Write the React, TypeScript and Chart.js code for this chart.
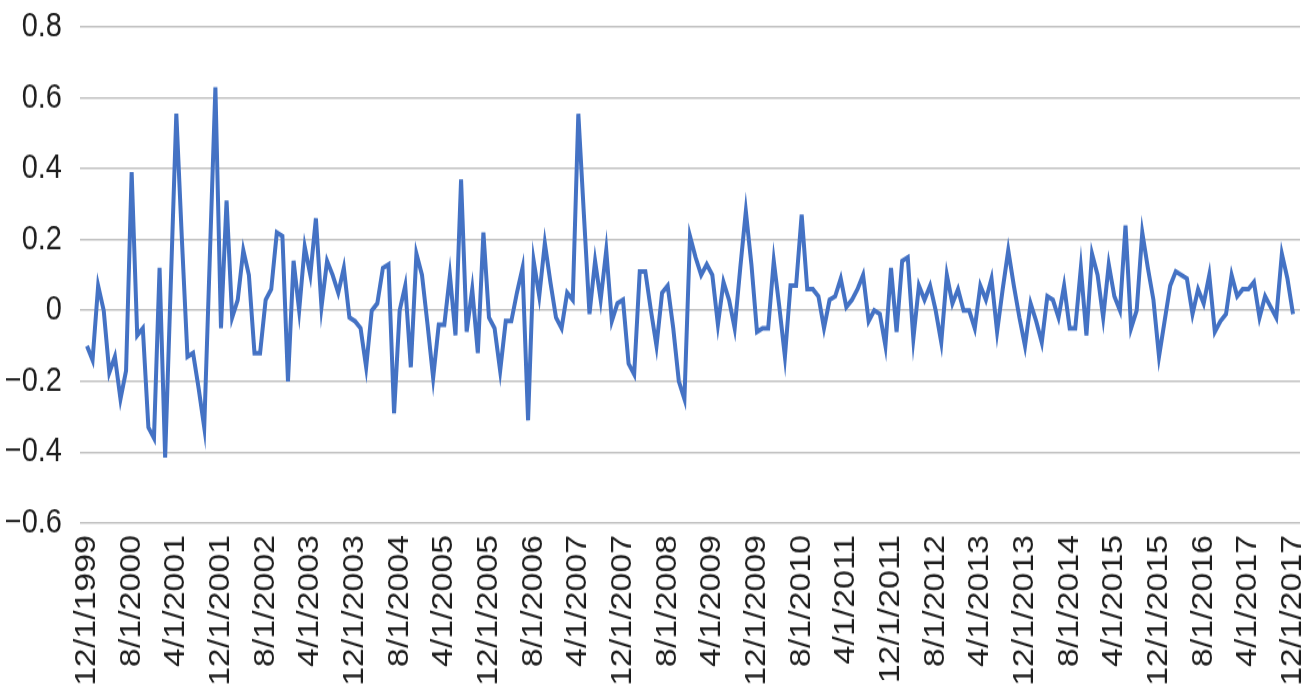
import React, { useEffect, useRef } from 'react';
import { Chart, registerables } from 'chart.js';

Chart.register(...registerables);

// Tick labels on the date axis (one every 8 months, 12/1999 .. 12/2017)
const tickLabels = [
  '12/1/1999', '8/1/2000', '4/1/2001', '12/1/2001', '8/1/2002', '4/1/2003', '12/1/2003',
  '8/1/2004', '4/1/2005', '12/1/2005', '8/1/2006', '4/1/2007', '12/1/2007', '8/1/2008',
  '4/1/2009', '12/1/2009', '8/1/2010', '4/1/2011', '12/1/2011', '8/1/2012', '4/1/2013',
  '12/1/2013', '8/1/2014', '4/1/2015', '12/1/2015', '8/1/2016', '4/1/2017', '12/1/2017',
];
const monthsPerTick = 8;

// Y-axis tick values
const yTicks = [0.8, 0.6, 0.4, 0.2, 0, -0.2, -0.4, -0.6];

// Monthly series values (217 months, 12/1999 .. 12/2017)
const values = [
  -0.10, -0.14, 0.07, 0.00, -0.175, -0.13, -0.25, -0.17, 0.39, -0.07,
  -0.05, -0.33, -0.36, 0.12, -0.415, 0.07, 0.555, 0.20, -0.13, -0.12,
  -0.22, -0.33, 0.15, 0.63, -0.05, 0.31, -0.02, 0.03, 0.17, 0.10,
  -0.12, -0.12, 0.03, 0.06, 0.22, 0.21, -0.20, 0.14, 0.00, 0.18,
  0.10, 0.26, 0.01, 0.14, 0.10, 0.05, 0.12, -0.02, -0.03, -0.05,
  -0.16, 0.00, 0.02, 0.12, 0.13, -0.29, 0.00, 0.07, -0.16, 0.16,
  0.10, -0.04, -0.19, -0.04, -0.04, 0.10, -0.07, 0.37, -0.06, 0.06,
  -0.12, 0.22, -0.02, -0.05, -0.17, -0.03, -0.03, 0.05, 0.12, -0.31,
  0.14, 0.04, 0.19, 0.08, -0.02, -0.05, 0.05, 0.03, 0.555, 0.27,
  -0.01, 0.14, 0.03, 0.17, -0.03, 0.02, 0.03, -0.15, -0.18, 0.11,
  0.11, 0.00, -0.10, 0.05, 0.07, -0.05, -0.20, -0.25, 0.21, 0.15,
  0.10, 0.13, 0.10, -0.04, 0.08, 0.03, -0.05, 0.12, 0.28, 0.13,
  -0.06, -0.05, -0.05, 0.14, 0.01, -0.13, 0.07, 0.07, 0.27, 0.06,
  0.06, 0.04, -0.05, 0.03, 0.04, 0.09, 0.01, 0.03, 0.06, 0.10,
  -0.03, 0.00, -0.01, -0.10, 0.12, -0.06, 0.14, 0.15, -0.08, 0.07,
  0.03, 0.07, 0.00, -0.09, 0.10, 0.02, 0.06, 0.00, 0.00, -0.05,
  0.07, 0.03, 0.09, -0.06, 0.06, 0.17, 0.07, -0.02, -0.10, 0.02,
  -0.03, -0.09, 0.04, 0.03, -0.02, 0.07, -0.05, -0.05, 0.12, -0.07,
  0.16, 0.10, -0.02, 0.13, 0.04, 0.00, 0.24, -0.05, 0.00, 0.22,
  0.12, 0.03, -0.13, -0.03, 0.07, 0.11, 0.10, 0.09, -0.01, 0.06,
  0.02, 0.10, -0.06, -0.03, -0.01, 0.10, 0.04, 0.06, 0.06, 0.08,
  -0.02, 0.04, 0.01, -0.02, 0.16, 0.09, -0.01,
];

const FONT = { family: "'Liberation Sans', Arial, Helvetica, sans-serif", size: 29 };
const TEXT_COLOR = '#1e1e1e';

// The reference picture is vertically stretched; the canvas is drawn shorter and shown at full height.
const VIEW_W = 1309;
const VIEW_H = 694;
const CANVAS_H = 593;

function fmtY(v: number): string {
  if (Math.abs(v) < 1e-9) return '0';
  return (v < 0 ? '\u2212' : '') + Math.abs(v).toFixed(1);
}

export default function App() {
  const ref = useRef<HTMLCanvasElement>(null);

  useEffect(() => {
    const canvas = ref.current;
    if (!canvas) return;
    const points = values.map((v, i) => ({ x: i, y: v }));
    const chart = new Chart(canvas, {
      type: 'line',
      data: {
        datasets: [
          {
            data: points,
            borderColor: '#4472C4',
            borderWidth: 4,
            pointRadius: 0,
            tension: 0,
            fill: false,
          },
        ],
      },
      options: {
        animation: false,
        responsive: false,
        plugins: { legend: { display: false }, tooltip: { enabled: false } },
        layout: { padding: { left: 0, right: 9, top: 23, bottom: 0 } },
        scales: {
          x: {
            type: 'linear',
            min: -1.25,
            max: values.length - 1 + 1.25,
            afterBuildTicks: (axis: any) => {
              axis.ticks = tickLabels.map((_, k) => ({ value: k * monthsPerTick }));
            },
            afterFit: (axis: any) => {
              axis.height = 146;
              axis.paddingLeft = 0;
              axis.paddingRight = 0;
            },
            ticks: {
              autoSkip: false,
              maxRotation: 90,
              minRotation: 90,
              padding: 10,
              font: FONT,
              color: TEXT_COLOR,
              callback: (_v: any, idx: number) => tickLabels[idx],
            },
            grid: { display: false, drawTicks: false },
            border: { display: false },
          },
          y: {
            min: -0.6,
            max: 0.8,
            afterBuildTicks: (axis: any) => {
              axis.ticks = yTicks.map((v) => ({ value: v }));
            },
            afterFit: (axis: any) => {
              axis.width = 80;
              axis.paddingTop = 0;
              axis.paddingBottom = 0;
            },
            ticks: {
              padding: 18,
              font: FONT,
              color: TEXT_COLOR,
              callback: (v: any) => fmtY(Number(v)),
            },
            grid: { color: '#bfbfbf', lineWidth: 1.6, drawTicks: false },
            border: { display: false },
          },
        },
      },
    });
    return () => chart.destroy();
  }, []);

  return (
    <div style={{ position: 'fixed', left: 0, top: 0, width: VIEW_W, height: VIEW_H, background: '#fff' }}>
      <canvas
        ref={ref}
        width={VIEW_W}
        height={CANVAS_H}
        style={{ display: 'block', width: VIEW_W + 'px', height: VIEW_H + 'px' }}
      />
    </div>
  );
}
